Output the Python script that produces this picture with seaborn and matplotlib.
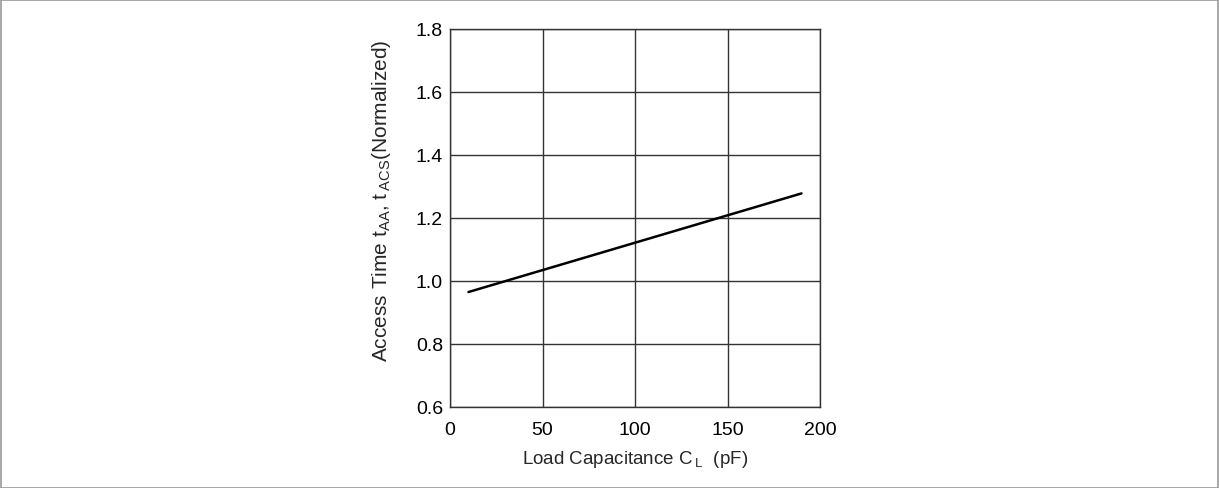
import matplotlib
matplotlib.use("Agg")
import matplotlib.pyplot as plt
import seaborn as sns
import pandas as pd
from matplotlib.patches import Rectangle

# Load capacitance (pF) and normalized access time
load_cap_pf = [10, 190]
access_time_norm = [0.965, 1.278]

x_ticks = [0, 50, 100, 150, 200]
y_ticks = [0.6, 0.8, 1.0, 1.2, 1.4, 1.6, 1.8]

sns.set_style("white")
plt.rcParams["font.family"] = ["Liberation Sans", "DejaVu Sans"]
plt.rcParams["mathtext.fontset"] = "custom"
plt.rcParams["mathtext.rm"] = "Liberation Sans"
plt.rcParams["mathtext.it"] = "Liberation Sans"

df = pd.DataFrame({"cap": load_cap_pf, "t": access_time_norm})

fig = plt.figure(figsize=(12.19, 4.89), dpi=100)
ax = fig.add_axes([450 / 1219, 1 - 408 / 489, 370 / 1219, 378 / 489])

sns.lineplot(data=df, x="cap", y="t", ax=ax, color="black", linewidth=1.8)

ax.set_xlim(0, 200)
ax.set_ylim(0.6, 1.8)
ax.set_xticks(x_ticks)
ax.set_yticks(y_ticks)
ax.set_xticklabels([str(v) for v in x_ticks])
ax.set_yticklabels([f"{v:.1f}" for v in y_ticks])
ax.tick_params(axis="x", length=0, labelsize=14, colors="black", pad=10)
ax.tick_params(axis="y", length=0, labelsize=14, colors="black", pad=5)
ax.grid(True, color="#333333", linewidth=1.0)
for s in ax.spines.values():
    s.set_color("#333333")
    s.set_linewidth(1.0)

ax.set_xlabel(r"Load Capacitance C$\,_{\mathrm{L}}$  (pF)", fontsize=13.5, labelpad=7)
ax.set_ylabel(r"Access Time t$_{\mathrm{AA}}$, t$\,_{\mathrm{ACS}}$(Normalized)",
              fontsize=15, va="center")
ax.yaxis.set_label_coords(-0.184, 0.548)

# thin frame around the whole figure
fig.patches.append(Rectangle((0.001, 0.001), 0.998, 0.997, transform=fig.transFigure,
                             fill=False, edgecolor="#999999", linewidth=1.2))

fig.savefig("out.png", dpi=100)
